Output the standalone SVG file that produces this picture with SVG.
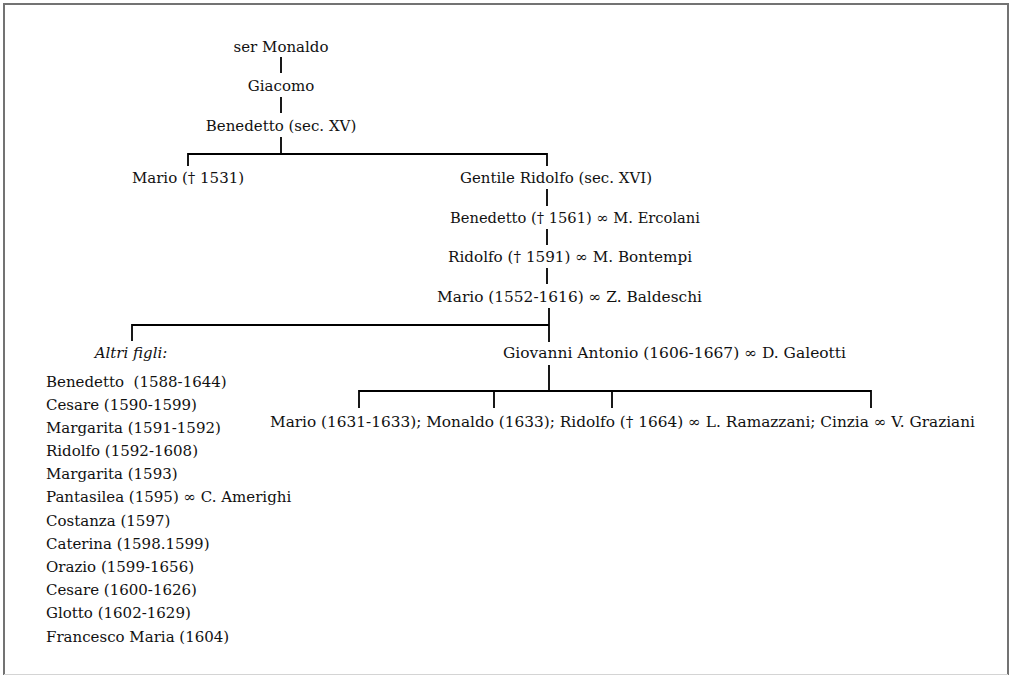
<svg xmlns="http://www.w3.org/2000/svg" width="1011" height="676" viewBox="0 0 1011 676">
<style>
text{font-family:"DejaVu Serif","Liberation Serif",serif;font-size:15px;fill:#111}
.c{text-anchor:middle}
.it{font-style:italic}
.ln{stroke:#000;stroke-width:1.8;fill:none}
</style>
<rect width="1011" height="676" fill="#fff"/>
<g id="frame">
<path d="M4,675 V4 H1008 V675" fill="none" stroke="#737373" stroke-width="2"/>
<line x1="4" y1="674.5" x2="1008" y2="674.5" stroke="#d4d4d4" stroke-width="1"/>
</g>
<g id="connectors" class="ln">
<path d="M281,57 V73 M281,97 V113 M281,137 V154"/>
<path d="M188,166 V154 H547 V166"/>
<path d="M547,189 V206 M547,229 V245 M547,268 V284"/>
<path d="M549,308 V342 M132,341 V325 H549"/>
<path d="M549,365 V391 M359,408 V391 H871 V408 M494,391 V408 M612,391 V408"/>
</g>
<g id="n-ser-monaldo"><text class="c" x="281" y="52">ser Monaldo</text></g>
<g id="n-giacomo"><text class="c" x="281" y="91">Giacomo</text></g>
<g id="n-benedetto-xv"><text class="c" x="281" y="131">Benedetto (sec. XV)</text></g>
<g id="n-mario-1531"><text class="c" x="188" y="183">Mario († 1531)</text></g>
<g id="n-gentile"><text x="460" y="183" textLength="192" lengthAdjust="spacingAndGlyphs">Gentile Ridolfo (sec. XVI)</text></g>
<g id="n-benedetto-1561"><text x="450" y="223" textLength="250" lengthAdjust="spacingAndGlyphs">Benedetto († 1561) ∞ M. Ercolani</text></g>
<g id="n-ridolfo-1591"><text x="448" y="262" textLength="244" lengthAdjust="spacingAndGlyphs">Ridolfo († 1591) ∞ M. Bontempi</text></g>
<g id="n-mario-1552"><text x="437" y="302" textLength="265" lengthAdjust="spacingAndGlyphs">Mario (1552-1616) ∞ Z. Baldeschi</text></g>
<g id="n-altri"><text class="c it" x="131" y="358">Altri figli:</text></g>
<g id="n-giovanni"><text x="503" y="358" textLength="343" lengthAdjust="spacingAndGlyphs">Giovanni Antonio (1606-1667) ∞ D. Galeotti</text></g>
<g id="n-figli-giovanni"><text x="270" y="427" textLength="705" lengthAdjust="spacingAndGlyphs">Mario (1631-1633); Monaldo (1633); Ridolfo († 1664) ∞ L. Ramazzani; Cinzia ∞ V. Graziani</text></g>
<g id="n-altri-list">
<text x="46" y="387" xml:space="preserve">Benedetto  (1588-1644)</text>
<text x="46" y="410">Cesare (1590-1599)</text>
<text x="46" y="433">Margarita (1591-1592)</text>
<text x="46" y="456">Ridolfo (1592-1608)</text>
<text x="46" y="479">Margarita (1593)</text>
<text x="46" y="502">Pantasilea (1595) ∞ C. Amerighi</text>
<text x="46" y="526">Costanza (1597)</text>
<text x="46" y="549">Caterina (1598.1599)</text>
<text x="46" y="572">Orazio (1599-1656)</text>
<text x="46" y="595">Cesare (1600-1626)</text>
<text x="46" y="618">Glotto (1602-1629)</text>
<text x="46" y="642">Francesco Maria (1604)</text>
</g>
</svg>
